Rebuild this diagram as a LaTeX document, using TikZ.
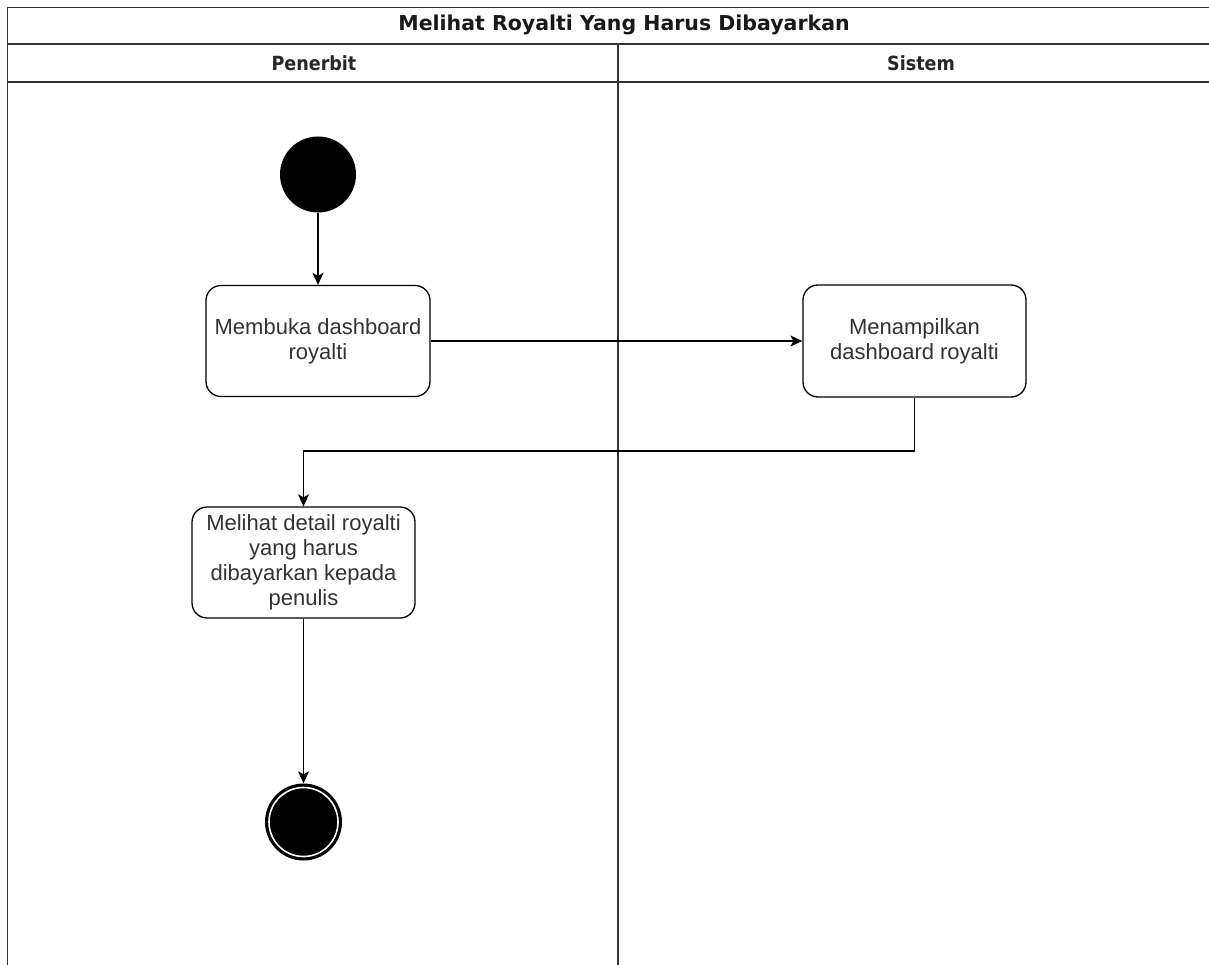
\documentclass[tikz,border=0pt]{standalone}
\usepackage{fontspec}
\setmainfont{Liberation Sans}
\newfontfamily\headfont{DejaVu Sans}
\newfontfamily\lanefont{DejaVu Sans Condensed}
\usetikzlibrary{arrows.meta}
\definecolor{linegray}{HTML}{333333}
\definecolor{textgray}{HTML}{333333}
\begin{document}
\begin{tikzpicture}[x=1pt,y=-1pt,
  lane/.style={draw=linegray,line width=1.6pt},
  titletext/.style={font=\headfont\bfseries\fontsize{20.5}{24}\selectfont,text=black!90},
  headtext/.style={font=\lanefont\bfseries\fontsize{19.5}{23}\selectfont,text=black!85},
  action/.style={draw=black,line width=1.3pt,rounded corners=15pt,fill=white,
    align=center,text=textgray,font=\fontsize{22}{25}\selectfont,inner sep=0pt},
  flow/.style={draw=black,line width=1.3pt,-{Stealth[length=12pt,width=11pt,inset=3pt]}},
]
\useasboundingbox (0,0) rectangle (1209,965);
\fill[white] (0,0) rectangle (1209,965);

% swimlane frame
\draw[lane] (7.5,970) -- (7.5,7.5) -- (1215,7.5);
\draw[lane] (7.5,44) -- (1215,44);
\draw[lane] (7.5,82) -- (1215,82);
\draw[lane] (618,44) -- (618,970);

\node[titletext] (title) at (624,25) {Melihat Royalti Yang Harus Dibayarkan};
\node[headtext] (lane1) at (314,63) {Penerbit};
\node[headtext] (lane2) at (921,63) {Sistem};

% activity nodes
\node[circle,fill=black,minimum size=76pt,inner sep=0pt] (start) at (318,174.5) {};
\node[action,minimum width=224pt,minimum height=111pt] (a1) at (318,341) {Membuka dashboard\\royalti};
\node[action,minimum width=223pt,minimum height=112pt] (a2) at (914.5,341) {Menampilkan\\dashboard royalti};
\node[action,minimum width=223pt,minimum height=111pt] (a3) at (303.5,562.5) {Melihat detail royalti\\yang harus\\dibayarkan kepada\\penulis};
\node[circle,fill=black,minimum size=77pt,inner sep=0pt] (end) at (303.5,822) {};
\draw[white,line width=1.6pt] (end.center) circle (34.5pt);

% control flow
\draw[flow] (start) -- (a1);
\draw[flow] (a1) -- (a2);
\draw[flow] (a2.south) |- (303.5,451) -- (a3.north);
\draw[flow] (a3) -- (end);
\end{tikzpicture}
\end{document}
